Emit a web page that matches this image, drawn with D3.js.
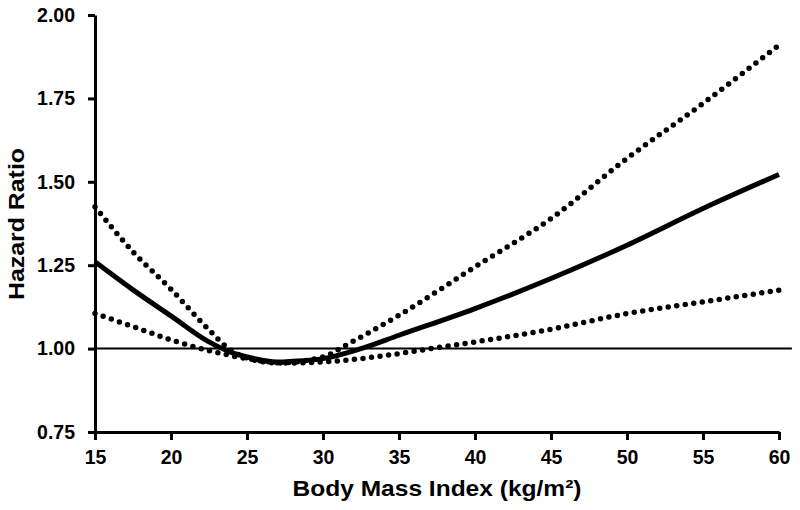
<!DOCTYPE html>
<html>
<head>
<meta charset="utf-8">
<script src="https://cdn.jsdelivr.net/npm/d3@7"></script>
<style>
  html, body { margin: 0; padding: 0; background: #fff; }
  svg { display: block; font-family: "Liberation Sans", Arial, sans-serif; }
</style>
</head>
<body>
<svg id="chart" width="800" height="510"></svg>
<script>
// ---- data ----
const bmi      = [15, 17.5, 20, 22.5, 24, 25, 27, 28, 30, 32.5, 35, 40, 45, 50, 55, 60];
const hrMain   = [1.26, 1.176, 1.098, 1.02, 0.988, 0.975, 0.96, 0.962, 0.97, 1.0, 1.04, 1.12, 1.21, 1.31, 1.42, 1.522];
const bmiUpper = [15, 17.5, 20, 22.5, 24, 25, 27, 30, 31.5, 35, 40, 45, 50, 55, 60];
const hrUpper  = [1.425, 1.29, 1.178, 1.056, 0.993, 0.972, 0.957, 0.975, 1.01, 1.10, 1.245, 1.39, 1.57, 1.735, 1.91];
const bmiLower = [15, 17.5, 20, 22.5, 25, 27.5, 30, 32.5, 35, 37.5, 40, 45, 50, 55, 60];
const hrLower  = [1.105, 1.066, 1.026, 0.994, 0.97, 0.957, 0.96, 0.97, 0.985, 1.003, 1.02, 1.058, 1.105, 1.14, 1.175];
const refLineX = [15, 60.85];
const refLineY = [1.0, 1.0];
const xTicks   = [15, 20, 25, 30, 35, 40, 45, 50, 55, 60];
const yTicks   = [0.75, 1.00, 1.25, 1.50, 1.75, 2.00];
const xTitle   = "Body Mass Index (kg/m²)";
const yTitle   = "Hazard Ratio";

// ---- layout ----
const svg = d3.select("#chart");
const x = d3.scaleLinear().domain([15, 60]).range([95, 779]);
const y = d3.scaleLinear().domain([0.75, 2.00]).range([432, 15]);

const line = d3.line().x(d => x(d[0])).y(d => y(d[1])).curve(d3.curveMonotoneX);

// reference line
svg.append("path")
  .datum(refLineX.map((v, i) => [v, refLineY[i]]))
  .attr("d", d3.line().x(d => x(d[0])).y(d => y(d[1])))
  .attr("fill", "none").attr("stroke", "#000").attr("stroke-width", 2);

// confidence bands (dotted)
[[bmiUpper, hrUpper], [bmiLower, hrLower]].forEach(([xs, ys]) => {
  svg.append("path")
    .datum(xs.map((v, i) => [v, ys[i]]))
    .attr("d", line)
    .attr("fill", "none").attr("stroke", "#000")
    .attr("stroke-width", 5.5)
    .attr("stroke-linecap", "round")
    .attr("stroke-dasharray", "0,8.6");
});

// main curve
svg.append("path")
  .datum(bmi.map((v, i) => [v, hrMain[i]]))
  .attr("d", line)
  .attr("fill", "none").attr("stroke", "#000")
  .attr("stroke-width", 5);

// axes
const xAxis = svg.append("g").attr("transform", "translate(0,432)")
  .call(d3.axisBottom(x).tickValues(xTicks).tickFormat(d3.format("d")).tickSize(8).tickPadding(10).tickSizeOuter(0));
const yAxis = svg.append("g").attr("transform", "translate(95,0)")
  .call(d3.axisLeft(y).tickValues(yTicks).tickFormat(d3.format(".2f")).tickSize(7).tickPadding(13).tickSizeOuter(0));

[xAxis, yAxis].forEach(g => {
  g.select(".domain").attr("stroke", "#000").attr("stroke-width", 3);
  g.selectAll(".tick line").attr("stroke", "#000").attr("stroke-width", 3);
  g.selectAll(".tick text")
    .attr("fill", "#000")
    .style("font-family", "'Liberation Sans', Arial, sans-serif")
    .style("font-weight", "bold")
    .style("font-size", "19.5px");
});

// titles
svg.append("text")
  .attr("x", 437).attr("y", 496)
  .attr("text-anchor", "middle")
  .attr("textLength", 289).attr("lengthAdjust", "spacingAndGlyphs")
  .style("font-weight", "bold").style("font-size", "22px")
  .attr("fill", "#000")
  .text(xTitle);

svg.append("text")
  .attr("transform", "translate(24,224) rotate(-90)")
  .attr("text-anchor", "middle")
  .attr("textLength", 152).attr("lengthAdjust", "spacingAndGlyphs")
  .style("font-weight", "bold").style("font-size", "22px")
  .attr("fill", "#000")
  .text(yTitle);
</script>
</body>
</html>
